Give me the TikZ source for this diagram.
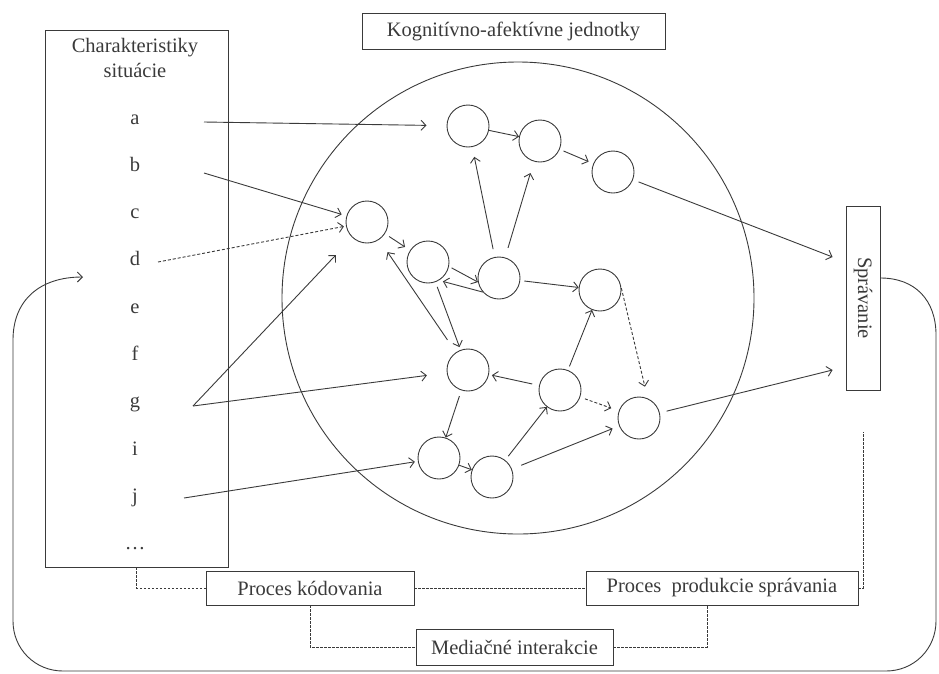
\documentclass[tikz,border=0pt]{standalone}
\usepackage{fontspec}
\usepackage{graphicx}
\setmainfont{Liberation Serif}
\usetikzlibrary{arrows.meta}
\definecolor{inkgray}{RGB}{58,58,58}

\tikzset{
  unit/.style={draw=inkgray, circle, minimum size=42pt, inner sep=0pt},
  box/.style={draw=inkgray, rectangle, inner sep=0pt, text=inkgray, font=\fontsize{20.5}{25}\selectfont},
  item/.style={text=inkgray, inner sep=0pt, font=\fontsize{20.5}{25}\selectfont},
  link/.style={draw=inkgray, -{Straight Barb[length=5pt,width=10pt]}},
  dlink/.style={link, dash pattern=on 3pt off 2pt},
  guide/.style={draw=inkgray, line width=0.8pt, dash pattern=on 2.5pt off 1.5pt}
}

\begin{document}
\begin{tikzpicture}[x=1pt, y=-1pt, line width=0.9pt]
    \useasboundingbox (0,0) rectangle (939,673);

    % Situation features
    \node[box, minimum width=183pt, minimum height=537pt] (sit) at (136.5,298.5) {};
    \node[item, align=center] (sittitle) at (135,58) {Charakteristiky\\situácie};
    \foreach \n/\t [count=\k from 0] in {a/a, b/b, c/c, d/d, e/e, f/f, g/g, i/i, j/j, dots/…}
        \node[item, anchor=base] (l\n) at (135,124+47.3*\k) {\t};

    % Cognitive-affective units
    \node[box, minimum width=303pt, minimum height=36pt] (cau) at (513.5,31) {Kognitívno-afektívne jednotky};
    \draw[inkgray] (518,298) circle (236);
    \node[unit] (n1) at (468,126) {};
    \node[unit] (n2) at (540,141) {};
    \node[unit] (n3) at (613,172) {};
    \node[unit] (n4) at (367,222) {};
    \node[unit] (n5) at (428,262) {};
    \node[unit] (n6) at (499,278) {};
    \node[unit] (n7) at (600,290) {};
    \node[unit] (n8) at (468,370) {};
    \node[unit] (n9) at (560,390) {};
    \node[unit] (n10) at (639,418) {};
    \node[unit] (n11) at (439,458) {};
    \node[unit] (n12) at (492,477) {};

    % Behaviour
    \node[box, minimum width=34pt, minimum height=184pt] (spr) at (863,298) {\rotatebox{-90}{Správanie}};

    % Processes
    \node[box, minimum width=208pt, minimum height=34pt] (kod) at (310,588) {Proces kódovania};
    \node[box, minimum width=272pt, minimum height=34pt] (prod) at (722,588) {Proces\ \ produkcie správania};
    \node[box, minimum width=197pt, minimum height=36pt] (med) at (514.5,647) {Mediačné interakcie};

    % Inputs from the features
    \coordinate (sa) at (204,122);
    \coordinate (sb) at (204,173);
    \coordinate (sd) at (158,262);
    \coordinate (sg) at (193,406);
    \coordinate (sj) at (184,498);
    \draw[link, shorten >=20pt] (sa) -- (n1);
    \draw[link, shorten >=5pt] (sb) -- (n4);
    \draw[dlink, shorten >=2pt] (sd) -- (n4);
    \draw[link, shorten >=24pt] (sg) -- (n4);
    \draw[link, shorten >=20pt] (sg) -- (n8);
    \draw[link, shorten >=3pt] (sj) -- (n11);

    % Links between units
    \draw[link] (n1) -- (n2);
    \draw[link, shorten <=4pt, shorten >=5pt] (n2) -- (n3);
    \draw[link, shorten <=5pt, shorten >=6pt] (n4) -- (n5);
    \draw[link, shorten <=8pt, shorten >=10pt] (n6) -- (n1);
    \draw[link, shorten <=10pt, shorten >=12pt] (n6) -- (n2);
    \draw[link, shorten <=3pt] (n5.-12) -- (n6.191);
    \draw[link, shorten >=4pt] (n6.221) -- (n5.-59);
    \draw[link, shorten <=4pt] (n6) -- (n7);
    \draw[dlink, shorten >=12pt] (n7.5) -- (n10.66);
    \draw[link, shorten <=5pt, shorten >=3pt] (n5) -- (n8);
    \draw[link, shorten <=15pt, shorten >=15pt] (n8) -- (n4);
    \draw[link, shorten <=7pt, shorten >=3pt] (n9) -- (n8);
    \draw[link, shorten <=4pt] (n9) -- (n7);
    \draw[dlink, shorten <=5pt, shorten >=8pt] (n9) -- (n10);
    \draw[link, shorten <=6pt] (n8) -- (n11);
    \draw[link] (n11) -- (n12);
    \draw[link, shorten <=5pt] (n12) -- (n9);
    \draw[link, shorten <=10pt, shorten >=7pt] (n12) -- (n10);
    \draw[link, shorten <=6pt] (n3) -- ([xshift=-13pt,yshift=41pt]spr.west);
    \draw[link, shorten <=7pt] (n10) -- ([xshift=-13pt,yshift=-72pt]spr.west);

    % Feedback loop
    \coordinate (fb) at (83,277);
    \draw[link] ([yshift=20pt]spr.east) .. controls (915,278) and (936,300) .. (936,335)
        -- (936,621) .. controls (936,649) and (914,671) .. (886,671)
        -- (63,671) .. controls (35,671) and (13,649) .. (13,621)
        -- (13,340) .. controls (13,300) and (40,277) .. (fb);

    % Dashed process lines
    \draw[guide] (sit.south) |- (kod.west);
    \draw[guide] (kod.east) -- (prod.west);
    \draw[guide] (prod.east) -| ([yshift=-42pt]spr.south);
    \draw[guide] (kod.south) |- (med.west);
    \draw[guide] (med.east) -| ([xshift=-15pt]prod.south);
\end{tikzpicture}
\end{document}
